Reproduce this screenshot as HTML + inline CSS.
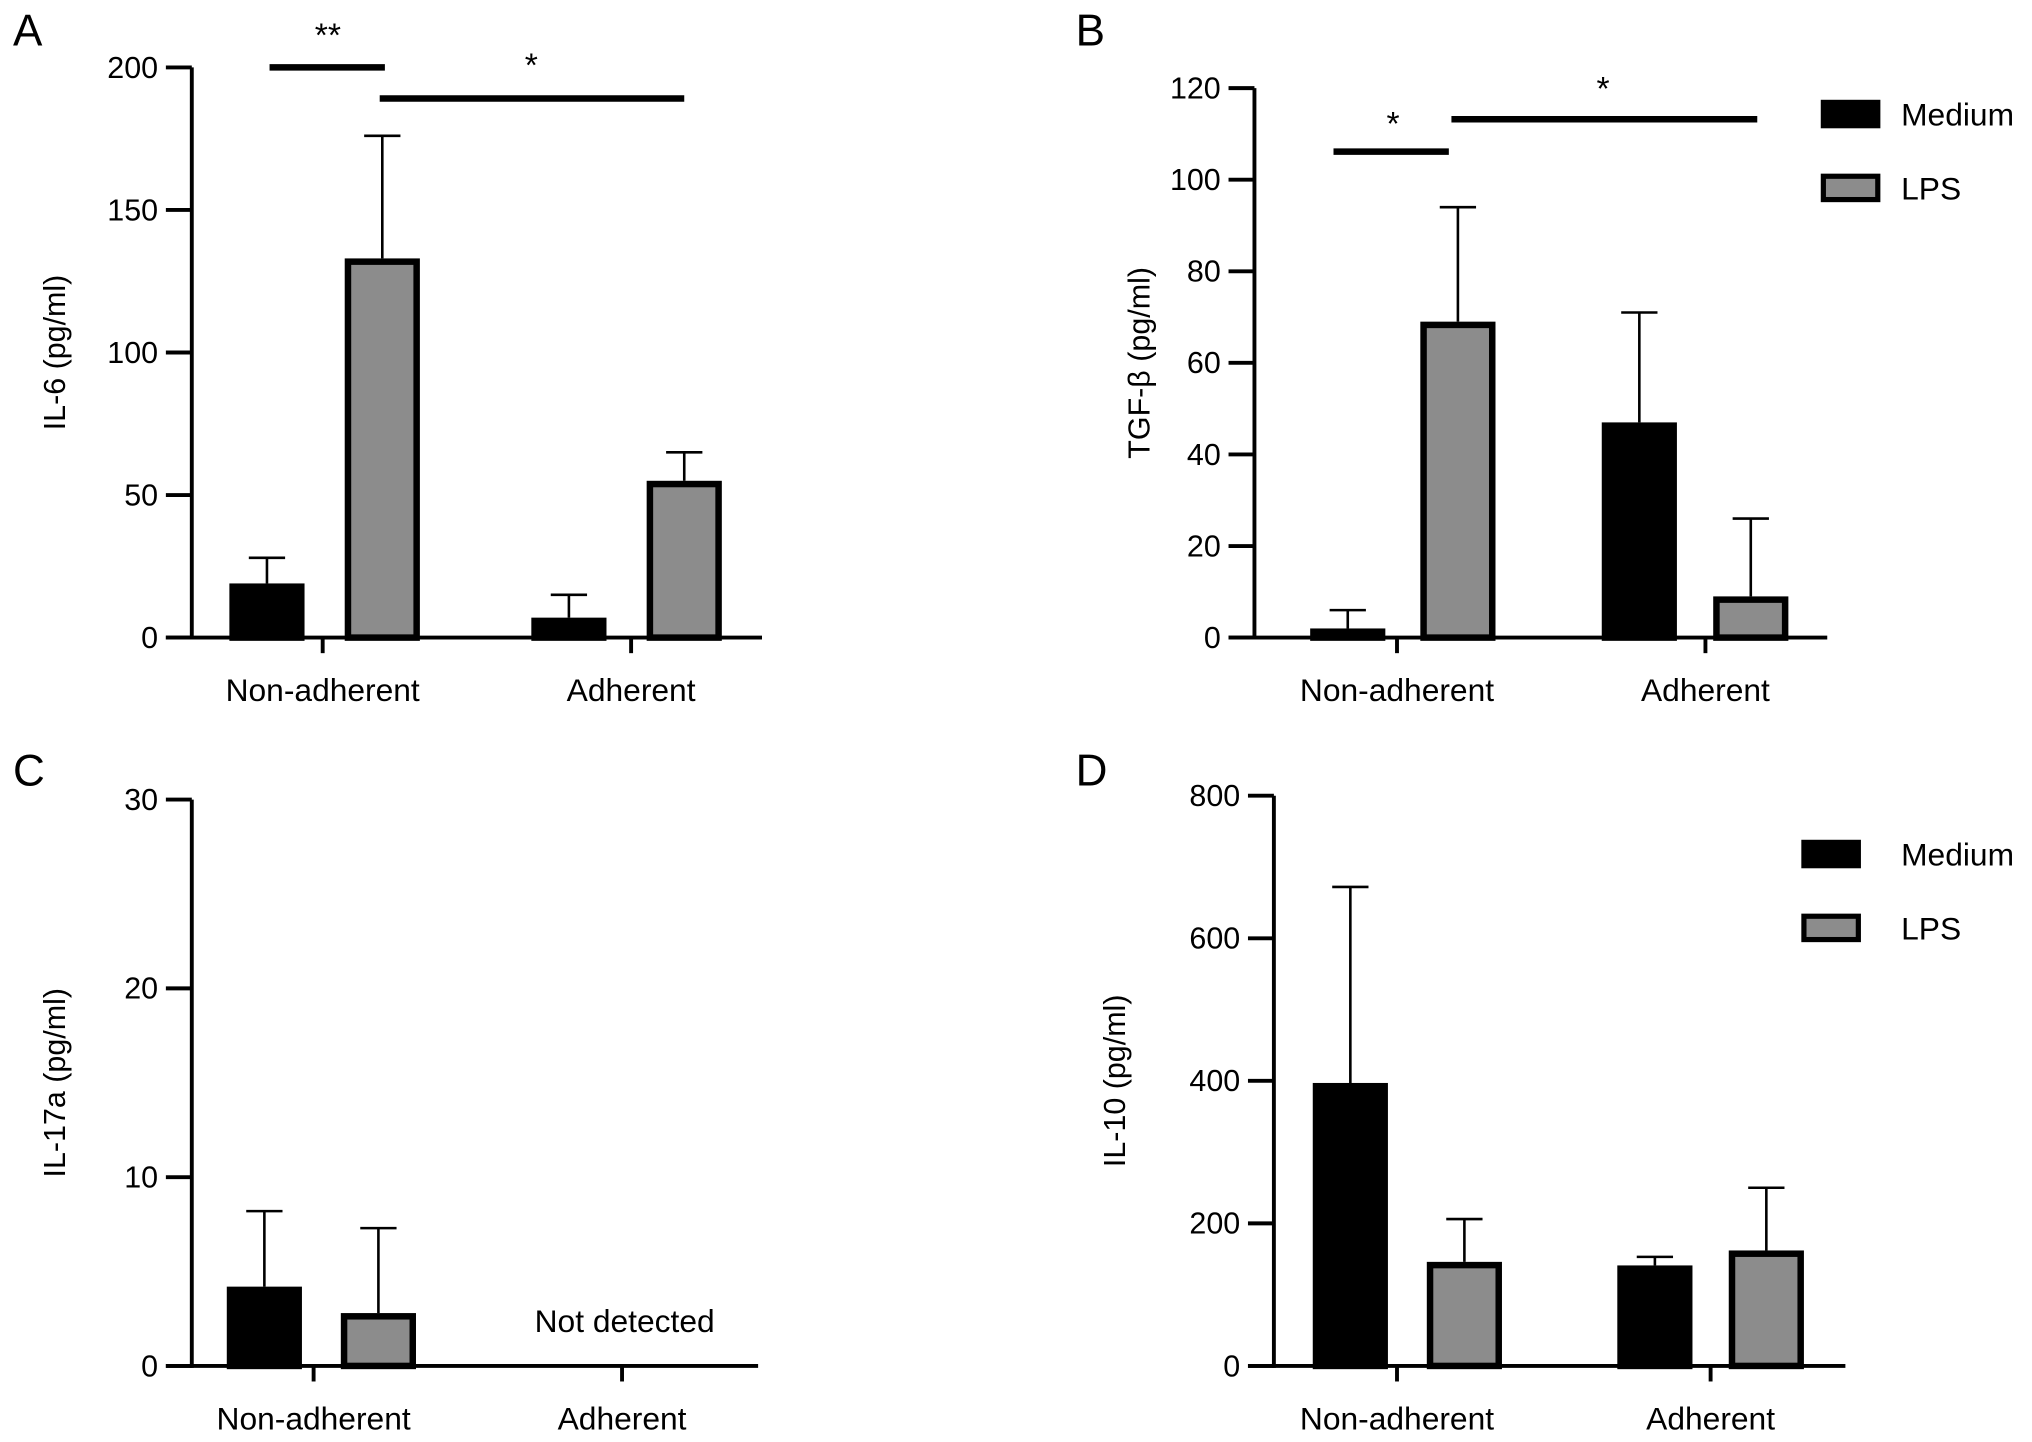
<!DOCTYPE html>
<html><head><meta charset="utf-8"><style>
html,body{margin:0;padding:0;background:#fff}
svg{display:block}
text{font-family:"Liberation Sans",sans-serif;fill:#000}
</style></head><body>
<svg id="fig" width="2032" height="1442" viewBox="0 0 1568 1112.7" preserveAspectRatio="none" xmlns="http://www.w3.org/2000/svg"></svg>
<script>
// Panel A: IL-6
const categories = ["Non-adherent", "Adherent"];
const seriesNames = ["Medium", "LPS"];
const aMedium = [19, 7];
const aMediumErr = [28, 15];
const aLPS = [133, 55];
const aLPSErr = [176, 65];
const aTicks = [0, 50, 100, 150, 200];
// Panel B: TGF-beta
const bMedium = [2, 47];
const bMediumErr = [6, 71];
const bLPS = [69, 9];
const bLPSErr = [94, 26];
const bTicks = [0, 20, 40, 60, 80, 100, 120];
// Panel C: IL-17a
const cMedium = [4.2, null];
const cMediumErr = [8.2, null];
const cLPS = [2.8, null];
const cLPSErr = [7.3, null];
const cTicks = [0, 10, 20, 30];
// Panel D: IL-10
const dMedium = [397, 141];
const dMediumErr = [672, 153];
const dLPS = [146, 162];
const dLPSErr = [206, 250];
const dTicks = [0, 200, 400, 600, 800];

const NS = "http://www.w3.org/2000/svg";
const svg = document.getElementById('fig');
function mk(tag, attrs, parent, txt) {
  const e = document.createElementNS(NS, tag);
  for (const k in attrs) e.setAttribute(k, attrs[k]);
  if (txt !== undefined) e.textContent = txt;
  (parent || svg).appendChild(e);
  return e;
}

function panel(cfg) {
  const g = mk('g', {});
  
  
  const ymax = cfg.ticks[cfg.ticks.length - 1];
  const y = v => cfg.y0 - (v / ymax) * (cfg.y0 - cfg.yTop);
  const lt = mk('text', {x: cfg.letterX, y: cfg.letterY, 'font-size': 34}, g, cfg.letter);
  
  
  const groups = [[cfg.med, cfg.medErr, '#000', 0], [cfg.lps, cfg.lpsErr, '#8c8c8c', 1]];
  categories.forEach((c, i) => {
    groups.forEach(([vals, errs, fill, s]) => {
      const v = vals[i];
      if (v === null || v === undefined) return;
      const cx = cfg.barX[i][s];
      const w = 58;
      const top = y(v);
      const eb = mk('line', {x1: cx, x2: cx, y1: top, y2: y(errs[i]), stroke: '#000', 'stroke-width': 2}, g);
      
      
      const cap = mk('line', {x1: cx - 14, x2: cx + 14, y1: y(errs[i]), y2: y(errs[i]), stroke: '#000', 'stroke-width': 2}, g);
      
      
      const r = mk('rect', {x: cx - w / 2 + 2.5, y: top + 2.5, width: w - 5, height: Math.max(0, cfg.y0 - top - 2.5), fill: fill, stroke: '#000', 'stroke-width': 5}, g);
      
      
    });
  });
  const ya = mk('line', {x1: cfg.ax, x2: cfg.ax, y1: cfg.yTop, y2: cfg.y0 + 1.5, stroke: '#000', 'stroke-width': 3}, g);
  
  
  const xa = mk('line', {x1: cfg.ax - 20, x2: cfg.xEnd, y1: cfg.y0, y2: cfg.y0, stroke: '#000', 'stroke-width': 3}, g);
  
  
  cfg.ticks.forEach(t => {
    const tl = mk('line', {x1: cfg.ax - 20, x2: cfg.ax, y1: y(t), y2: y(t), stroke: '#000', 'stroke-width': 3}, g);
    
    
    const tx = mk('text', {x: cfg.ax - 26, y: y(t) + 8, 'font-size': 23.5, 'text-anchor': 'end'}, g, t);
    
    
  });
  categories.forEach((c, i) => {
    const tl = mk('line', {x1: cfg.catX[i], x2: cfg.catX[i], y1: cfg.y0, y2: cfg.y0 + 12, stroke: '#000', 'stroke-width': 3}, g);
    
    
    const tx = mk('text', {x: cfg.catX[i], y: cfg.y0 + 49, 'font-size': 24.5, 'text-anchor': 'middle'}, g, c);
    
    
  });
  const yt = mk('text', {x: 0, y: 0, 'font-size': 23.5, 'text-anchor': 'middle', transform: `translate(${cfg.titleX},${(cfg.y0 + cfg.yTop) / 2}) rotate(-90)`}, g, cfg.title);
  
  
  (cfg.sig || []).forEach(s => {
    const l = mk('line', {x1: s[0], x2: s[1], y1: s[2], y2: s[2], stroke: '#000', 'stroke-width': 5}, g);
    
    
    const t = mk('text', {x: s[3], y: s[4], 'font-size': 26, 'text-anchor': 'middle', fill: '#666'}, g, s[5]);
    
    
  });
  if (cfg.legend) {
    const [lx, ly] = cfg.legend;
    [['Medium', '#000'], ['LPS', '#8c8c8c']].forEach((e, k) => {
      const lg = mk('g', {}, g);
      
      
      mk('rect', {x: lx + 2, y: ly + k * 57 + 2, width: 42, height: 18, fill: e[1], stroke: '#000', 'stroke-width': 4}, lg);
      mk('text', {x: 1467, y: ly + k * 57 + 20, 'font-size': 24.5}, lg, e[0]);
    });
  }
  return g;
}

panel({name: 'panel-a-il6', letter: 'A', letterX: 10, letterY: 35, ax: 148, y0: 492, yTop: 52, xEnd: 588,
  ticks: aTicks, med: aMedium, medErr: aMediumErr, lps: aLPS, lpsErr: aLPSErr,
  barX: [[206, 295], [439, 528]], catX: [249, 487], title: 'IL-6 (pg/ml)', titleX: 50,
  sig: [[208, 297, 52, 253, 36, '**'], [293, 528, 76, 410, 59, '*']]});
panel({name: 'panel-b-tgfb', letter: 'B', letterX: 830, letterY: 35, ax: 968, y0: 492, yTop: 68, xEnd: 1410,
  ticks: bTicks, med: bMedium, medErr: bMediumErr, lps: bLPS, lpsErr: bLPSErr,
  barX: [[1040, 1125], [1265, 1351]], catX: [1078, 1316], title: 'TGF-β (pg/ml)', titleX: 887,
  sig: [[1029, 1118, 117, 1075, 104, '*'], [1120, 1356, 92, 1237, 77, '*']], legend: [1405, 77]});
panel({name: 'panel-c-il17a', letter: 'C', letterX: 10, letterY: 606, ax: 148, y0: 1054, yTop: 617, xEnd: 585,
  ticks: cTicks, med: cMedium, medErr: cMediumErr, lps: cLPS, lpsErr: cLPSErr,
  barX: [[204, 292], [0, 0]], catX: [242, 480], title: 'IL-17a (pg/ml)', titleX: 50});
panel({name: 'panel-d-il10', letter: 'D', letterX: 830, letterY: 606, ax: 983, y0: 1054, yTop: 614, xEnd: 1424,
  ticks: dTicks, med: dMedium, medErr: dMediumErr, lps: dLPS, lpsErr: dLPSErr,
  barX: [[1042, 1130], [1277, 1363]], catX: [1078, 1320], title: 'IL-10 (pg/ml)', titleX: 868, legend: [1390, 648]});
const nd = mk('text', {x: 482, y: 1028, 'font-size': 24.5, 'text-anchor': 'middle'}, svg, 'Not detected');


</script>
</body></html>
